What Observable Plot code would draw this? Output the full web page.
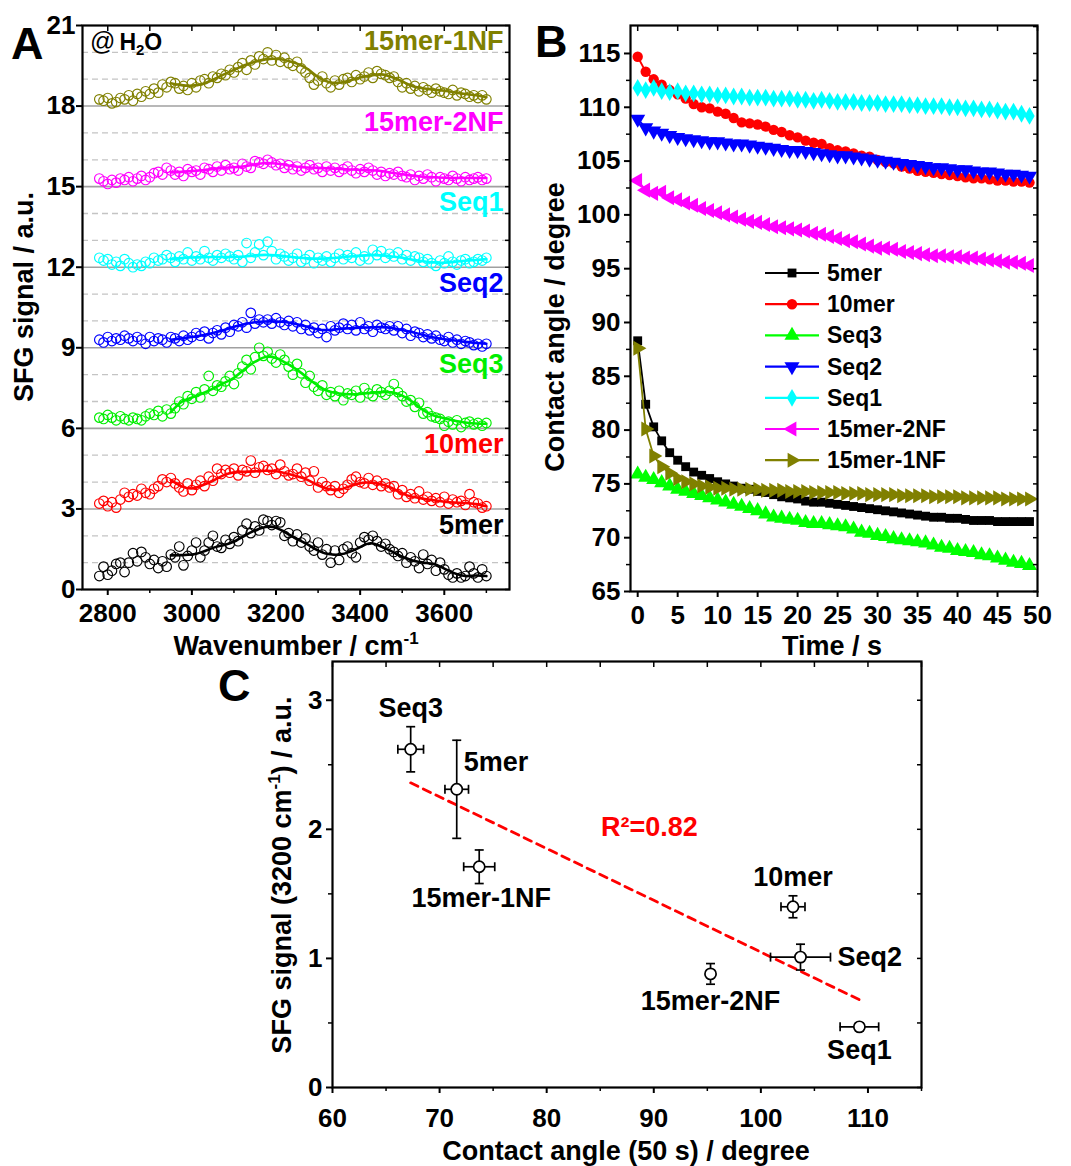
<!DOCTYPE html>
<html><head><meta charset="utf-8">
<script src="https://cdn.jsdelivr.net/npm/d3@7"></script>
<script src="https://cdn.jsdelivr.net/npm/@observablehq/plot@0.6"></script>
<style>
body{margin:0;background:#fff;}
#wrap{position:relative;width:1071px;height:1166px;overflow:hidden;background:#fff;}
#wrap svg{position:absolute;}
</style></head><body><div id="wrap"></div>
<script>
const FONT = "'Liberation Sans', Arial, Helvetica, sans-serif";

// ---------------- Panel A: SFG spectra ----------------
const specNames = ["5mer", "10mer", "Seq3", "Seq2", "Seq1", "15mer-2NF", "15mer-1NF"];
const specOffsets = [0, 3, 6, 9, 12, 15, 18];
const specColors = ["#000000", "#ff0000", "#00ee00", "#0000ff", "#00ffff", "#ff00ff", "#808000"];
const wavenumbers = d3.range(2780, 3701, 10);
const fitWavenumbers = d3.range(2950, 3701, 25);

const sfg5mer = [0.50,0.85,0.55,0.70,0.95,1.00,0.65,1.00,1.35,1.05,
 1.40,1.20,0.95,1.10,0.80,1.05,0.85,1.30,1.20,1.60,
 0.90,1.25,1.45,1.75,1.20,1.45,1.75,2.00,1.60,1.55,
 1.85,1.70,1.95,1.80,2.20,2.45,2.10,2.35,2.20,2.60,
 2.55,2.40,2.55,2.50,2.00,2.10,1.80,2.05,1.75,1.90,
 1.60,1.45,1.75,1.30,1.50,1.00,1.45,1.10,1.50,1.60,
 1.35,1.20,1.75,1.95,1.85,2.00,1.80,1.60,1.70,1.50,
 1.40,1.25,1.35,1.00,1.20,1.05,0.80,1.30,0.95,1.10,
 0.70,1.00,0.75,0.55,0.45,0.60,0.45,0.50,0.85,0.60,
 0.45,0.75,0.50];
const sfg10mer = [0.20,0.30,0.10,0.25,0.05,0.35,0.60,0.45,0.55,0.50,
 0.75,0.60,0.55,0.75,0.85,1.10,1.00,1.15,0.95,0.80,
 0.65,0.95,0.70,0.90,1.05,0.85,1.20,1.05,1.50,1.30,
 1.45,1.35,1.50,1.25,1.45,1.40,1.80,1.35,1.55,1.60,
 1.45,1.50,1.30,1.65,1.40,1.25,1.30,1.50,1.20,1.35,
 1.05,1.40,0.80,1.00,0.85,0.70,0.85,0.60,0.75,0.90,
 1.10,1.20,1.00,0.95,1.15,0.90,1.05,0.85,0.95,0.80,
 0.85,0.55,0.70,0.45,0.55,0.40,0.65,0.35,0.45,0.30,
 0.40,0.25,0.45,0.20,0.35,0.25,0.30,0.15,0.55,0.25,
 0.20,0.05,0.10];
const sfgSeq3 = [0.40,0.35,0.50,0.40,0.30,0.45,0.35,0.30,0.40,0.35,
 0.30,0.45,0.55,0.50,0.65,0.45,0.70,0.55,0.75,1.00,
 0.90,1.20,1.10,1.35,1.15,1.45,1.95,1.40,1.60,1.55,
 1.75,1.95,1.65,2.05,2.30,2.55,2.20,2.65,3.00,2.70,
 2.85,2.60,2.45,2.75,2.55,2.30,2.00,2.40,2.05,1.70,
 1.95,1.55,1.40,1.60,1.25,1.35,1.20,1.40,1.05,1.30,
 1.25,1.40,1.15,1.50,1.30,1.20,1.45,1.35,1.25,1.40,
 1.65,1.35,1.20,1.00,1.05,0.80,0.95,0.55,0.60,0.45,
 0.40,0.35,0.10,0.25,0.15,0.30,0.05,0.20,0.25,0.15,
 0.20,0.10,0.20];
const sfgSeq2 = [0.30,0.20,0.40,0.25,0.35,0.30,0.45,0.35,0.25,0.40,
 0.30,0.15,0.40,0.25,0.35,0.30,0.20,0.40,0.35,0.25,
 0.45,0.30,0.40,0.55,0.45,0.60,0.35,0.55,0.65,0.50,
 0.75,0.60,0.85,0.80,0.95,0.75,1.30,0.90,1.05,0.95,
 1.05,0.90,1.10,0.95,0.85,1.00,0.80,0.95,0.70,0.85,
 0.65,0.75,0.55,0.70,0.40,0.80,0.65,0.75,0.90,0.70,
 0.85,0.65,0.95,0.70,0.80,0.60,0.85,0.75,0.70,0.80,
 0.65,0.80,0.55,0.70,0.45,0.60,0.55,0.40,0.50,0.35,
 0.45,0.30,0.25,0.40,0.20,0.30,0.15,0.25,0.20,0.10,
 0.15,0.05,0.15];
const sfgSeq1 = [0.35,0.25,0.30,0.10,0.20,0.05,0.30,0.15,0.00,0.10,
 0.05,0.20,0.15,0.35,0.25,0.30,0.45,0.35,0.20,0.40,
 0.30,0.55,0.25,0.40,0.30,0.60,0.35,0.25,0.45,0.35,
 0.50,0.40,0.30,0.45,0.20,0.90,0.35,0.55,0.85,0.45,
 0.95,0.60,0.30,0.50,0.40,0.25,0.35,0.50,0.20,0.30,
 0.45,0.15,0.35,0.25,0.40,0.20,0.35,0.50,0.30,0.45,
 0.35,0.55,0.25,0.40,0.30,0.65,0.45,0.60,0.35,0.50,
 0.40,0.55,0.30,0.45,0.25,0.40,0.35,0.20,0.30,0.15,
 0.05,0.25,0.15,0.40,0.20,0.10,0.25,0.30,0.15,0.20,
 0.30,0.25,0.35];
const sfg15mer2NF = [0.30,0.20,0.10,0.25,0.15,0.30,0.25,0.35,0.20,0.30,
 0.40,0.25,0.35,0.50,0.55,0.45,0.70,0.60,0.45,0.55,
 0.40,0.65,0.55,0.60,0.45,0.70,0.65,0.55,0.75,0.60,
 0.80,0.65,0.70,0.60,0.85,0.75,0.70,0.95,0.90,0.85,
 1.00,0.90,0.80,0.85,0.70,0.80,0.65,0.75,0.60,0.70,
 0.80,0.65,0.70,0.55,0.75,0.60,0.70,0.55,0.65,0.75,
 0.60,0.50,0.65,0.55,0.70,0.60,0.45,0.55,0.40,0.50,
 0.45,0.55,0.40,0.35,0.45,0.25,0.40,0.30,0.45,0.35,
 0.20,0.35,0.30,0.25,0.40,0.30,0.20,0.35,0.25,0.30,
 0.35,0.25,0.30];
const sfg15mer1NF = [0.25,0.20,0.30,0.10,0.15,0.30,0.25,0.40,0.20,0.45,
 0.35,0.55,0.45,0.65,0.50,0.80,0.70,0.90,0.85,0.65,
 0.75,0.60,0.85,0.70,0.95,1.00,0.85,1.10,1.05,1.20,
 1.15,1.35,1.25,1.45,1.60,1.35,1.70,1.55,1.85,1.75,
 2.00,1.70,1.90,1.65,1.80,1.60,1.50,1.65,1.40,1.25,
 1.05,0.80,0.95,1.10,0.85,0.70,0.95,0.80,1.00,1.05,
 0.90,1.15,1.00,1.10,1.25,1.05,1.30,1.20,1.15,1.05,
 1.10,0.90,0.70,0.85,0.65,0.75,0.55,0.70,0.60,0.50,
 0.65,0.55,0.50,0.45,0.60,0.40,0.50,0.45,0.35,0.40,
 0.30,0.40,0.25];

const fit5mer = [1.27,1.28,1.30,1.40,1.55,1.65,1.78,2.00,2.20,2.33,2.30,2.10,1.88,1.68,1.45,1.32,1.30,1.40,1.58,1.72,1.60,1.42,1.22,1.08,1.00,0.95,0.78,0.60,0.50,0.52,0.50];
const fit10mer = [1.07,0.85,0.76,0.88,1.05,1.25,1.36,1.38,1.40,1.42,1.40,1.32,1.22,1.08,0.88,0.74,0.72,0.84,0.96,0.98,0.92,0.78,0.58,0.45,0.38,0.32,0.27,0.24,0.22,0.18,0.10];
const fitSeq3 = [0.60,0.98,1.15,1.30,1.48,1.68,1.88,2.20,2.48,2.66,2.62,2.42,2.18,1.88,1.58,1.38,1.30,1.27,1.28,1.32,1.35,1.34,1.22,0.98,0.68,0.48,0.38,0.28,0.22,0.18,0.17];
const fitSeq2 = [0.30,0.35,0.40,0.47,0.55,0.65,0.78,0.88,0.95,0.98,0.98,0.95,0.88,0.78,0.68,0.66,0.70,0.73,0.75,0.76,0.77,0.74,0.66,0.58,0.48,0.38,0.32,0.27,0.22,0.18,0.15];
const fitSeq1 = [0.30,0.34,0.36,0.37,0.38,0.38,0.38,0.40,0.44,0.46,0.44,0.40,0.36,0.33,0.32,0.33,0.36,0.40,0.43,0.45,0.44,0.40,0.35,0.28,0.22,0.18,0.17,0.20,0.24,0.27,0.30];
const fit15mer2NF = [0.53,0.55,0.58,0.61,0.66,0.70,0.72,0.76,0.83,0.88,0.86,0.80,0.74,0.71,0.70,0.68,0.66,0.64,0.62,0.61,0.58,0.52,0.46,0.41,0.37,0.35,0.33,0.32,0.32,0.32,0.32];
const fit15mer1NF = [0.85,0.78,0.76,0.82,0.98,1.17,1.35,1.52,1.65,1.74,1.76,1.70,1.58,1.38,1.08,0.90,0.87,0.95,1.06,1.14,1.18,1.08,0.92,0.74,0.66,0.61,0.57,0.51,0.45,0.40,0.33];

const specRaw = [sfg5mer, sfg10mer, sfgSeq3, sfgSeq2, sfgSeq1, sfg15mer2NF, sfg15mer1NF];
const specFit = [fit5mer, fit10mer, fitSeq3, fitSeq2, fitSeq1, fit15mer2NF, fit15mer1NF];

// ---------------- Panel B: contact angle vs time ----------------
const caNames = ["5mer", "10mer", "Seq3", "Seq2", "Seq1", "15mer-2NF", "15mer-1NF"];
const caColors = ["#000000", "#ff0000", "#00ff00", "#0000ff", "#00ffff", "#ff00ff", "#808000"];
const caTime = d3.range(0, 50);
const ca5mer = [88.3,82.4,80.3,79.0,77.9,77.2,76.6,76.1,75.8,75.5,
 75.2,75.0,74.8,74.6,74.5,74.3,74.2,74.0,73.8,73.7,
 73.6,73.4,73.3,73.3,73.2,73.1,73.0,72.9,72.8,72.7,
 72.6,72.5,72.4,72.3,72.2,72.1,72.0,71.9,71.9,71.8,
 71.8,71.7,71.6,71.6,71.6,71.5,71.5,71.5,71.5,71.5];
const ca10mer = [114.7,113.3,112.6,112.1,111.6,111.2,110.8,110.3,110.0,109.9,
 109.6,109.4,109.0,108.6,108.5,108.4,108.2,107.9,107.7,107.4,
 107.2,106.9,106.7,106.6,106.2,106.0,105.9,105.7,105.5,105.4,
 105.1,104.9,104.8,104.5,104.3,104.1,104.0,103.9,103.8,103.7,
 103.6,103.5,103.4,103.4,103.3,103.2,103.2,103.1,103.1,103.0];
const caSeq3 = [75.9,75.6,75.4,75.1,74.8,74.5,74.3,74.1,73.9,73.7,
 73.5,73.3,73.1,72.9,72.7,72.5,72.2,71.9,71.8,71.7,
 71.6,71.4,71.3,71.3,71.2,71.1,71.0,70.8,70.5,70.4,
 70.2,70.1,69.9,69.8,69.7,69.6,69.5,69.3,69.1,69.0,
 68.8,68.7,68.6,68.4,68.3,68.1,67.9,67.7,67.6,67.4];
const caSeq2 = [108.9,108.1,107.8,107.6,107.4,107.2,107.1,107.0,106.9,106.8,
 106.8,106.7,106.6,106.6,106.5,106.4,106.3,106.2,106.1,106.0,
 106.0,105.9,105.8,105.7,105.6,105.5,105.5,105.4,105.3,105.2,
 105.1,105.0,104.9,104.8,104.7,104.6,104.5,104.4,104.4,104.3,
 104.2,104.2,104.1,104.0,104.0,103.9,103.8,103.8,103.7,103.6];
const caSeq1 = [111.8,111.6,111.8,111.5,111.4,111.5,111.3,111.3,111.2,111.2,
 111.1,111.1,111.0,111.0,110.9,110.9,110.9,110.8,110.8,110.8,
 110.7,110.7,110.6,110.7,110.6,110.5,110.5,110.5,110.4,110.4,
 110.4,110.3,110.3,110.3,110.2,110.2,110.1,110.1,110.1,110.0,
 110.0,109.9,109.9,109.8,109.8,109.7,109.6,109.6,109.4,109.2];
const ca15mer2NF = [103.2,102.3,102.0,102.1,101.6,101.4,101.1,100.9,100.6,100.4,
 100.2,100.0,99.8,99.6,99.4,99.3,99.1,98.9,98.8,98.7,
 98.6,98.5,98.3,98.2,98.0,97.8,97.6,97.5,97.3,97.1,
 96.9,96.9,96.8,96.6,96.5,96.4,96.3,96.2,96.2,96.1,
 96.1,96.0,96.0,95.9,95.8,95.7,95.6,95.6,95.5,95.3];
const ca15mer1NF = [87.6,80.1,77.6,76.6,76.0,75.5,75.2,75.0,74.8,74.7,
 74.6,74.6,74.5,74.5,74.5,74.5,74.4,74.4,74.4,74.3,
 74.3,74.3,74.2,74.2,74.2,74.2,74.1,74.1,74.1,74.0,
 74.0,74.0,74.0,73.9,73.9,73.9,73.9,73.8,73.8,73.8,
 73.8,73.7,73.7,73.7,73.7,73.7,73.6,73.6,73.6,73.6];
const caValues = [ca5mer, ca10mer, caSeq3, caSeq2, caSeq1, ca15mer2NF, ca15mer1NF];

// ---------------- Panel C: SFG signal vs contact angle ----------------
const corrNames = ["Seq3", "5mer", "15mer-1NF", "15mer-2NF", "10mer", "Seq2", "Seq1"];
const corrAngle = [67.3, 71.6, 73.7, 95.3, 103.0, 103.7, 109.2];
const corrAngleErr = [1.2, 1.1, 1.45, 0, 1.12, 2.8, 1.8];
const corrSignal = [2.62, 2.31, 1.71, 0.88, 1.40, 1.01, 0.47];
const corrSignalErr = [0.175, 0.38, 0.13, 0.08, 0.085, 0.10, 0.03];
const fitAngle = [67.3, 109.2];
const fitSignal = [2.36, 0.68];
const fitR2 = 0.82;

// ====================== build ======================
const wrap = d3.select("#wrap");
const baseStyle = {fontFamily: FONT, fontSize: "26px", fontWeight: "bold", background: "transparent", color: "#000", overflow: "visible"};
const blank = () => "";
const plain = d => String(d);

// ---- A
const specPoints = specNames.flatMap((name, i) => specRaw[i].map((v, j) => ({name, w: wavenumbers[j], y: v + specOffsets[i]})));
const specFitPoints = specNames.flatMap((name, i) => specFit[i].map((v, j) => ({name, w: fitWavenumbers[j], y: v + specOffsets[i]})));
const specLabels = specNames.map((name, i) => ({name, y: specOffsets[i] + 2.4}));

const plotA = Plot.plot({
  width: 530, height: 620,
  marginLeft: 82, marginRight: 21, marginTop: 25, marginBottom: 31,
  style: baseStyle,
  x: {domain: [2740, 3755]},
  y: {domain: [0, 21]},
  color: {domain: specNames, range: specColors},
  marks: [
    Plot.ruleY(d3.range(1, 21).filter(v => v % 3), {stroke: "#c4c4c4", strokeWidth: 1.3, strokeDasharray: "6,4"}),
    Plot.ruleY(specOffsets.filter(v => v > 0), {stroke: "#a0a0a0", strokeWidth: 1.6}),
    Plot.dot(specPoints, {x: "w", y: "y", stroke: "name", r: 4.8, strokeWidth: 1.15}),
    Plot.line(specFitPoints, {x: "w", y: "y", z: "name", stroke: "name", strokeWidth: 2.6, curve: "natural"}),
    Plot.text(specLabels, {y: "y", text: "name", fill: "name", frameAnchor: "right", textAnchor: "end", dx: -6, fontSize: 27}),
    Plot.frame({stroke: "#000", strokeWidth: 2.2}),
    Plot.axisY({ticks: d3.range(0, 22, 3), tickSize: 6, tickPadding: 1, tickFormat: plain, strokeWidth: 2, label: null}),
    Plot.axisY({anchor: "right", ticks: d3.range(0, 22, 1), tickSize: -5, tickFormat: blank, strokeWidth: 1.5, label: null}),
    Plot.axisX({ticks: d3.range(2800, 3601, 200), tickSize: 6, tickPadding: 8, tickFormat: plain, strokeWidth: 2, label: null}),
    Plot.axisX({ticks: d3.range(2900, 3701, 200), tickSize: 4, tickFormat: blank, strokeWidth: 1.5, label: null}),
    Plot.axisX({anchor: "top", ticks: d3.range(2800, 3701, 100), tickSize: -5, tickFormat: blank, strokeWidth: 1.5, label: null})
  ]
});
d3.select(plotA).style("left", "0px").style("top", "0px");
wrap.node().appendChild(plotA);

// ---- B
const caSymbols = ["square", "circle", "triangle", "triangle", "diamond", "triangle", "triangle"];
const caRotate = [0, 0, 0, 180, 0, -90, 90];
const caR = [5, 5.2, 5.6, 5.6, 5.4, 5.6, 5.6];
const marksB = [];
caNames.forEach((name, i) => {
  const pts = caTime.map((t, j) => ({t, v: caValues[i][j]}));
  marksB.push(Plot.line(pts, {x: "t", y: "v", stroke: caColors[i], strokeWidth: 1.8}));
  marksB.push(Plot.dot(pts, {x: "t", y: "v", symbol: caSymbols[i], rotate: caRotate[i], fill: caColors[i], r: caR[i]}));
});
const plotB = Plot.plot({
  width: 541, height: 620,
  marginLeft: 100, marginRight: 34, marginTop: 25, marginBottom: 29,
  style: baseStyle,
  x: {domain: [-0.9, 50]},
  y: {domain: [65, 117.6]},
  marks: [
    ...marksB,
    Plot.frame({stroke: "#000", strokeWidth: 2.2}),
    Plot.axisY({ticks: d3.range(65, 116, 5), tickSize: 6, tickPadding: 4, tickFormat: plain, strokeWidth: 2, label: null}),
    Plot.axisY({ticks: d3.range(67.5, 116, 5), tickSize: 4, tickFormat: blank, strokeWidth: 1.5, label: null}),
    Plot.axisY({anchor: "right", ticks: d3.range(65, 118, 2.5), tickSize: -5, tickFormat: blank, strokeWidth: 1.5, label: null}),
    Plot.axisX({ticks: d3.range(0, 51, 5), tickSize: 6, tickPadding: 8, tickFormat: plain, strokeWidth: 2, label: null}),
    Plot.axisX({anchor: "top", ticks: d3.range(0, 51, 5), tickSize: -5, tickFormat: blank, strokeWidth: 1.5, label: null})
  ]
});
d3.select(plotB).style("left", "530px").style("top", "0px");
wrap.node().appendChild(plotB);

// ---- C
const corrTable = corrNames.map((name, i) => ({name, a: corrAngle[i], ae: corrAngleErr[i], s: corrSignal[i], se: corrSignalErr[i]}));
const fitTable = fitAngle.map((a, i) => ({a, s: fitSignal[i]}));
const capH = {draw(ctx, size) { const h = Math.sqrt(size / Math.PI); ctx.moveTo(-h, 0); ctx.lineTo(h, 0); }};
const capV = {draw(ctx, size) { const h = Math.sqrt(size / Math.PI); ctx.moveTo(0, -h); ctx.lineTo(0, h); }};
const labelPlace = {
  "Seq3": {dx: 0, dy: -41, anchor: "middle"},
  "5mer": {dx: 7, dy: -27, anchor: "start"},
  "15mer-1NF": {dx: 2, dy: 32, anchor: "middle"},
  "15mer-2NF": {dx: 0, dy: 27, anchor: "middle"},
  "10mer": {dx: 0, dy: -29, anchor: "middle"},
  "Seq2": {dx: 37, dy: 0, anchor: "start"},
  "Seq1": {dx: 0, dy: 24, anchor: "middle"}
};
const withXErr = corrTable.filter(d => d.ae > 0);
const fitMid = [{a: d3.mean(fitAngle), s: d3.mean(fitSignal), text: `R²=${fitR2}`}];
const plotC = Plot.plot({
  width: 741, height: 486,
  marginLeft: 102, marginRight: 50, marginTop: 21, marginBottom: 39,
  style: baseStyle,
  x: {domain: [60, 115]},
  y: {domain: [0, 3.3]},
  marks: [
    Plot.line(fitTable, {x: "a", y: "s", stroke: "#ff0000", strokeWidth: 2.8, strokeDasharray: "8,6"}),
    Plot.ruleY(withXErr, {y: "s", x1: d => d.a - d.ae, x2: d => d.a + d.ae, stroke: "#000", strokeWidth: 1.7}),
    Plot.dot(withXErr, {x: d => d.a - d.ae, y: "s", symbol: capV, r: 4.5, stroke: "#000", fill: "none", strokeWidth: 1.7}),
    Plot.dot(withXErr, {x: d => d.a + d.ae, y: "s", symbol: capV, r: 4.5, stroke: "#000", fill: "none", strokeWidth: 1.7}),
    Plot.ruleX(corrTable, {x: "a", y1: d => d.s - d.se, y2: d => d.s + d.se, stroke: "#000", strokeWidth: 1.7}),
    Plot.dot(corrTable, {x: "a", y: d => d.s - d.se, symbol: capH, r: 4.5, stroke: "#000", fill: "none", strokeWidth: 1.7}),
    Plot.dot(corrTable, {x: "a", y: d => d.s + d.se, symbol: capH, r: 4.5, stroke: "#000", fill: "none", strokeWidth: 1.7}),
    Plot.dot(corrTable, {x: "a", y: "s", r: 5.6, fill: "#fff", stroke: "#000", strokeWidth: 1.7}),
    ...corrNames.map(n => Plot.text(corrTable.filter(d => d.name === n), {x: "a", y: "s", text: "name", dx: labelPlace[n].dx, dy: labelPlace[n].dy, textAnchor: labelPlace[n].anchor, fontSize: 27, fill: "#000"})),
    Plot.text(fitMid, {x: "a", y: "s", text: "text", dx: -34, dy: -64, textAnchor: "start", fontSize: 27, fill: "#ff0000"}),
    Plot.frame({stroke: "#000", strokeWidth: 2.2}),
    Plot.axisY({ticks: [0, 1, 2, 3], tickSize: 6, tickPadding: 4, tickFormat: plain, strokeWidth: 2, label: null}),
    Plot.axisY({ticks: [0.5, 1.5, 2.5], tickSize: 4, tickFormat: blank, strokeWidth: 1.5, label: null}),
    Plot.axisY({anchor: "right", ticks: [0, 0.5, 1, 1.5, 2, 2.5, 3], tickSize: -5, tickFormat: blank, strokeWidth: 1.5, label: null}),
    Plot.axisX({ticks: d3.range(60, 111, 10), tickSize: 6, tickPadding: 15, tickFormat: plain, strokeWidth: 2, label: null}),
    Plot.axisX({ticks: d3.range(65, 116, 10), tickSize: 4, tickFormat: blank, strokeWidth: 1.5, label: null}),
    Plot.axisX({anchor: "top", ticks: d3.range(60, 116, 5), tickSize: -5, tickFormat: blank, strokeWidth: 1.5, label: null})
  ]
});
d3.select(plotC).style("left", "230px").style("top", "640px");
wrap.node().appendChild(plotC);

// ---- overlay: panel letters, axis titles, legend
const ov = wrap.append("svg").attr("width", 1071).attr("height", 1166)
  .style("left", "0px").style("top", "0px")
  .attr("font-family", FONT).attr("font-weight", "bold").attr("fill", "#000");

function txt(x, y, size, anchor, rot) {
  const t = ov.append("text").attr("font-size", size).attr("text-anchor", anchor);
  if (rot) t.attr("transform", `translate(${x},${y}) rotate(${rot})`);
  else t.attr("x", x).attr("y", y);
  return t;
}
txt(11, 59, 45, "start").text("A");
txt(535, 57, 45, "start").text("B");
txt(218, 701, 45, "start").text("C");

// @ H2O
const h = txt(90, 50, 23, "start");
h.append("tspan").attr("font-weight", "normal").attr("font-size", 25).text("@");
h.append("tspan").attr("dx", 4).text("H");
h.append("tspan").attr("font-size", 15).attr("dy", 5).text("2");
h.append("tspan").attr("dy", -5).text("O");

// A titles
txt(33, 297, 27, "middle", -90).text("SFG signal / a.u.");
const ax = txt(296, 655, 27, "middle");
ax.append("tspan").text("Wavenumber / cm");
ax.append("tspan").attr("font-size", 17).attr("dy", -11).text("-1");
// B titles
txt(564, 327, 27, "middle", -90).text("Contact angle / degree");
txt(832, 655, 27, "middle").text("Time / s");
// C titles
const cy = txt(291, 875, 27, "middle", -90);
cy.append("tspan").text("SFG signal (3200 cm");
cy.append("tspan").attr("font-size", 17).attr("dy", -11).text("-1");
cy.append("tspan").attr("dy", 11).text(") / a.u.");
txt(626, 1160, 27, "middle").text("Contact angle (50 s) / degree");

// B legend
const symMap = {square: d3.symbolSquare, circle: d3.symbolCircle, triangle: d3.symbolTriangle, diamond: d3.symbolDiamond};
caNames.forEach((name, i) => {
  const y = 273 + i * 31.2;
  ov.append("line").attr("x1", 765).attr("x2", 819).attr("y1", y).attr("y2", y)
    .attr("stroke", caColors[i]).attr("stroke-width", 2.2);
  ov.append("path").attr("d", d3.symbol(symMap[caSymbols[i]], Math.PI * caR[i] * caR[i])())
    .attr("transform", `translate(792,${y}) rotate(${caRotate[i]})`).attr("fill", caColors[i]);
  txt(827, y + 8, 23, "start").text(name);
});
</script>
</body></html>
